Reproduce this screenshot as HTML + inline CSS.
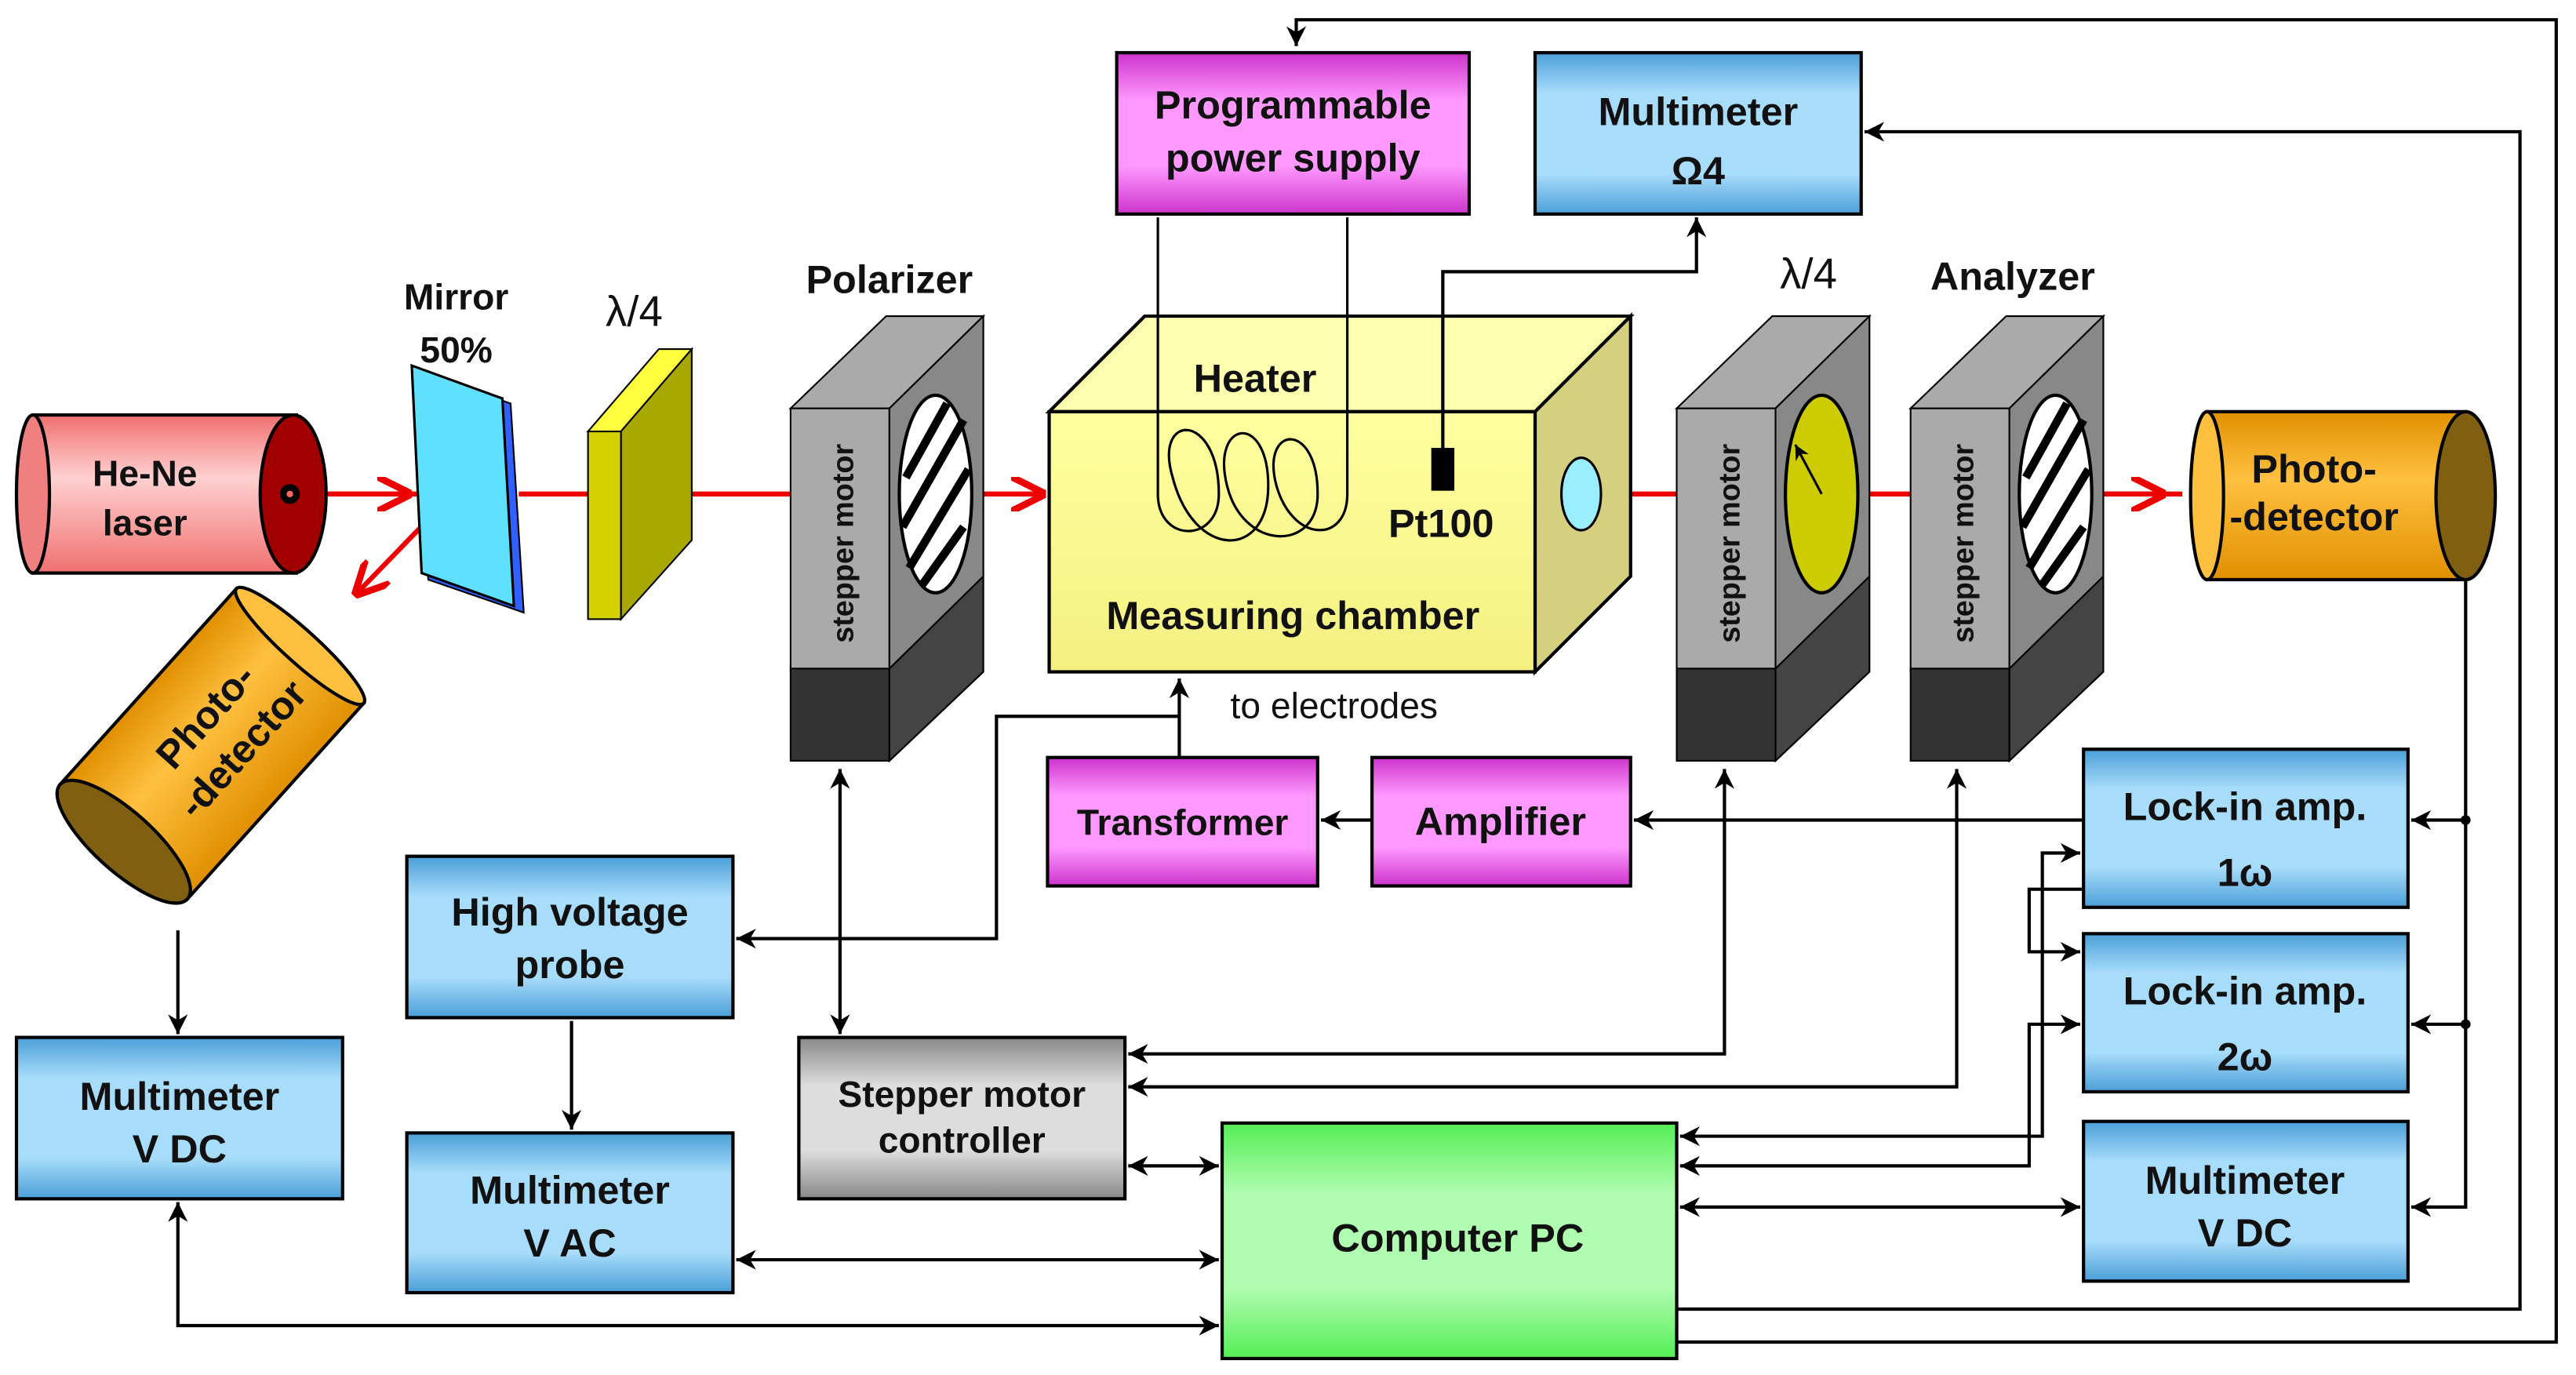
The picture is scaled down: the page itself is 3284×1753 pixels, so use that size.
<!DOCTYPE html>
<html><head><meta charset="utf-8"><style>html,body{margin:0;padding:0;background:#fff}svg{display:block}text{font-family:"Liberation Sans",sans-serif;font-weight:bold;fill:#111}</style></head><body>
<svg width="3284" height="1753" viewBox="0 0 1564 835" preserveAspectRatio="none" xmlns="http://www.w3.org/2000/svg">
<defs>
<linearGradient id="blue" x1="0" y1="0" x2="0" y2="1"><stop offset="0" stop-color="#4a9fd8"/><stop offset=".25" stop-color="#a8dcfb"/><stop offset=".75" stop-color="#a8dcfb"/><stop offset="1" stop-color="#4a9fd8"/></linearGradient>
<linearGradient id="mag" x1="0" y1="0" x2="0" y2="1"><stop offset="0" stop-color="#cc33cc"/><stop offset=".3" stop-color="#ff99ff"/><stop offset=".7" stop-color="#ff99ff"/><stop offset="1" stop-color="#cc33cc"/></linearGradient>
<linearGradient id="grey" x1="0" y1="0" x2="0" y2="1"><stop offset="0" stop-color="#888"/><stop offset=".3" stop-color="#ddd"/><stop offset=".7" stop-color="#ddd"/><stop offset="1" stop-color="#888"/></linearGradient>
<linearGradient id="green" x1="0" y1="0" x2="0" y2="1"><stop offset="0" stop-color="#55ee55"/><stop offset=".3" stop-color="#b0fcb0"/><stop offset=".7" stop-color="#b0fcb0"/><stop offset="1" stop-color="#55ee55"/></linearGradient>
<linearGradient id="pink" x1="0" y1="0" x2="0" y2="1"><stop offset="0" stop-color="#f07070"/><stop offset=".4" stop-color="#ffd0d0"/><stop offset="1" stop-color="#f07070"/></linearGradient>
<linearGradient id="orange" x1="0" y1="0" x2="0" y2="1"><stop offset="0" stop-color="#e09000"/><stop offset=".4" stop-color="#ffc040"/><stop offset="1" stop-color="#e09000"/></linearGradient>
<linearGradient id="yel" x1="0" y1="0" x2="0" y2="1"><stop offset="0" stop-color="#ffffa0"/><stop offset="1" stop-color="#f4f080"/></linearGradient>
<marker id="a" viewBox="0 0 10 10" refX="10" refY="5" markerWidth="6" markerHeight="6" orient="auto-start-reverse"><path d="M0,0 L10,5 L0,10 L3,5z" fill="#000"/></marker>
<marker id="r" viewBox="0 0 10 10" refX="10" refY="5" markerWidth="7" markerHeight="7" orient="auto"><path d="M0,0 L10,5 L0,10" fill="none" stroke="#e00" stroke-width="2"/></marker>
</defs>
<g stroke="#000" stroke-width="2" fill="none">
<path d="M1018,815 H1552 V12 H787 V28" marker-end="url(#a)"/>
<path d="M1018,795 H1530 V80 H1132" marker-end="url(#a)"/>
<path d="M716,460 V412" marker-end="url(#a)"/>
<path d="M716,435 H605 V570 H447" marker-end="url(#a)"/>
<path d="M510,467 V628" marker-end="url(#a)" marker-start="url(#a)"/>
<path d="M1047,467 V640 H685" marker-end="url(#a)" marker-start="url(#a)"/>
<path d="M1188,467 V660 H685" marker-end="url(#a)" marker-start="url(#a)"/>
<path d="M1265,498 H992" marker-end="url(#a)"/>
<path d="M833,498 H802" marker-end="url(#a)"/>
<path d="M1020,690 H1240 V518 H1263" marker-end="url(#a)" marker-start="url(#a)"/>
<path d="M1265,540 H1232 V578 H1263" marker-end="url(#a)"/>
<path d="M1020,708 H1232 V622 H1263" marker-end="url(#a)" marker-start="url(#a)"/>
<path d="M1020,733 H1263" marker-end="url(#a)" marker-start="url(#a)"/>
<path d="M1497,352 V733 H1464" marker-end="url(#a)"/>
<path d="M1497,498 H1464" marker-end="url(#a)"/>
<path d="M1497,622 H1464" marker-end="url(#a)"/>
<path d="M685,708 H740" marker-end="url(#a)" marker-start="url(#a)"/>
<path d="M347,620 V686" marker-end="url(#a)"/>
<path d="M447,765 H740" marker-end="url(#a)" marker-start="url(#a)"/>
<path d="M108,565 V628" marker-end="url(#a)"/>
<path d="M108,730 V805 H740" marker-end="url(#a)" marker-start="url(#a)"/>
</g>
<circle cx="1497" cy="498" r="3"/><circle cx="1497" cy="622" r="3"/>
<g stroke="#e00" stroke-width="3" fill="none">
<path d="M178,300 H275"/><path d="M200,300 H250" marker-end="url(#r)"/>
<path d="M275,300 L215,362" marker-end="url(#r)"/>
<path d="M315,300 H360 M420,300 H482"/>
<path d="M575,300 H635" marker-end="url(#r)"/>
<path d="M960,300 H1020 M1100,300 H1160 M1240,300 H1325"/>
<path d="M1270,300 H1315" marker-end="url(#r)"/>
</g>
<rect x="20" y="252" width="160" height="96" fill="url(#pink)" stroke="#000" stroke-width="2"/>
<ellipse cx="20" cy="300" rx="10" ry="48" fill="#f08080" stroke="#000" stroke-width="2"/>
<ellipse cx="178" cy="300" rx="20" ry="48" fill="#a00000" stroke="#000" stroke-width="2"/>
<circle cx="176" cy="300" r="6" fill="#000"/><circle cx="176" cy="300" r="2" fill="#f66"/>
<text x="88" y="295" font-size="22" text-anchor="middle">He-Ne</text><text x="88" y="325" font-size="22" text-anchor="middle">laser</text>
<polygon points="252,225 310,245 318,372 260,352" fill="#3060ff" stroke="#000"/>
<polygon points="250,222 305,242 312,368 256,348" fill="#60e0ff" stroke="#000" stroke-width="1.5"/>
<text x="277" y="188" font-size="22" text-anchor="middle">Mirror</text><text x="277" y="220" font-size="22" text-anchor="middle">50%</text>
<polygon points="357,262 400,212 420,212 377,262" fill="#ffff40" stroke="#000"/>
<polygon points="377,262 420,212 420,328 377,376" fill="#a8a800" stroke="#000"/>
<rect x="357" y="262" width="20" height="114" fill="#d4d000" stroke="#000"/>
<text x="385" y="198" font-size="26" text-anchor="middle" style="font-weight:normal">λ/4</text>
<g id="st">
<polygon points="480,248 538,192 597,192 540,248" fill="#aaa" stroke="#000"/>
<polygon points="540,248 597,192 597,408 540,462" fill="#777" stroke="#000"/>
<rect x="480" y="248" width="60" height="160" fill="#aaa" stroke="#000"/>
<rect x="480" y="406" width="60" height="56" fill="#333" stroke="#000"/>
<polygon points="540,406 597,350 597,408 540,462" fill="#444" stroke="#000"/>
<polygon points="540,248 597,192 597,350 540,406" fill="#888" stroke="#000"/>
</g>
<text transform="translate(518,330) rotate(-90)" font-size="18" text-anchor="middle">stepper motor</text>
<ellipse cx="568" cy="300" rx="22" ry="60" fill="#fff" stroke="#000" stroke-width="2"/>
<g stroke="#000" stroke-width="5"><line x1="550" y1="290" x2="575" y2="245"/><line x1="548" y1="320" x2="585" y2="255"/><line x1="552" y1="345" x2="588" y2="285"/><line x1="560" y1="355" x2="585" y2="320"/></g>
<text x="540" y="178" font-size="24" text-anchor="middle">Polarizer</text>
<use href="#st" x="538"/>
<text transform="translate(1056,330) rotate(-90)" font-size="18" text-anchor="middle">stepper motor</text>
<ellipse cx="1106" cy="300" rx="22" ry="60" fill="#cccc00" stroke="#000" stroke-width="2"/>
<path d="M1106,300 L1090,270" stroke="#000" stroke-width="1.5" marker-end="url(#a)"/>
<text x="1098" y="175" font-size="26" text-anchor="middle" style="font-weight:normal">λ/4</text>
<use href="#st" x="680"/>
<text transform="translate(1198,330) rotate(-90)" font-size="18" text-anchor="middle">stepper motor</text>
<ellipse cx="1248" cy="300" rx="22" ry="60" fill="#fff" stroke="#000" stroke-width="2"/>
<g stroke="#000" stroke-width="5"><line x1="1230" y1="290" x2="1255" y2="245"/><line x1="1228" y1="320" x2="1265" y2="255"/><line x1="1232" y1="345" x2="1268" y2="285"/><line x1="1240" y1="355" x2="1265" y2="320"/></g>
<text x="1222" y="176" font-size="24" text-anchor="middle">Analyzer</text>
<polygon points="637,250 695,192 990,192 932,250" fill="#ffffb0" stroke="#000" stroke-width="2"/>
<polygon points="932,250 990,192 990,350 932,408" fill="#d4d080" stroke="#000" stroke-width="2"/>
<rect x="637" y="250" width="295" height="158" fill="url(#yel)" stroke="#000" stroke-width="2"/>
<ellipse cx="960" cy="300" rx="12" ry="22" fill="#9ef" stroke="#000" stroke-width="1.5"/>
<path d="M703,132 V300 M818,132 V300 M703,300 C703,330 740,330 740,300 C740,250 700,250 712,290 C725,340 770,340 770,295 C770,250 735,255 745,295 C755,335 800,335 800,300 C800,255 765,258 775,295 C785,330 818,330 818,300" fill="none" stroke="#000" stroke-width="1.5"/>
<path d="M876,285 V165 H1030 V132" fill="none" stroke="#000" stroke-width="2" marker-end="url(#a)"/>
<rect x="869" y="272" width="14" height="26" fill="#000"/>
<text x="762" y="238" font-size="24" text-anchor="middle">Heater</text>
<text x="875" y="326" font-size="24" text-anchor="middle">Pt100</text>
<text x="785" y="382" font-size="24" text-anchor="middle">Measuring chamber</text>
<text x="810" y="436" font-size="22" text-anchor="middle" style="font-weight:normal">to electrodes</text>
<rect x="1340" y="250" width="157" height="102" fill="url(#orange)" stroke="#000" stroke-width="2"/>
<ellipse cx="1340" cy="301" rx="10" ry="51" fill="#ffc040" stroke="#000" stroke-width="2"/>
<ellipse cx="1497" cy="301" rx="18" ry="51" fill="#806010" stroke="#000" stroke-width="2"/>
<text x="1405" y="293" font-size="24" text-anchor="middle">Photo-</text><text x="1405" y="322" font-size="24" text-anchor="middle">-detector</text>
<g transform="translate(132,448) rotate(-48)">
<rect x="-85" y="-52" width="160" height="104" fill="url(#orange)" stroke="#000" stroke-width="2"/>
<ellipse cx="75" cy="0" rx="10" ry="52" fill="#ffc040" stroke="#000" stroke-width="2"/>
<ellipse cx="-85" cy="0" rx="18" ry="52" fill="#806010" stroke="#000" stroke-width="2"/>
<text x="5" y="-6" font-size="24" text-anchor="middle">Photo-</text><text x="5" y="24" font-size="24" text-anchor="middle">-detector</text>
</g>
<g stroke="#000" stroke-width="2">
<rect x="678" y="32" width="214" height="98" fill="url(#mag)"/>
<rect x="932" y="32" width="198" height="98" fill="url(#blue)"/>
<rect x="10" y="630" width="198" height="98" fill="url(#blue)"/>
<rect x="247" y="520" width="198" height="98" fill="url(#blue)"/>
<rect x="247" y="688" width="198" height="97" fill="url(#blue)"/>
<rect x="485" y="630" width="198" height="98" fill="url(#grey)"/>
<rect x="636" y="460" width="164" height="78" fill="url(#mag)"/>
<rect x="833" y="460" width="157" height="78" fill="url(#mag)"/>
<rect x="742" y="682" width="276" height="143" fill="url(#green)"/>
<rect x="1265" y="455" width="197" height="96" fill="url(#blue)"/>
<rect x="1265" y="567" width="197" height="96" fill="url(#blue)"/>
<rect x="1265" y="681" width="197" height="97" fill="url(#blue)"/>
</g>
<g font-size="24" text-anchor="middle">
<text x="785" y="72">Programmable</text><text x="785" y="104">power supply</text>
<text x="1031" y="76">Multimeter</text><text x="1031" y="112">Ω4</text>
<text x="109" y="674">Multimeter</text><text x="109" y="706">V DC</text>
<text x="346" y="562">High voltage</text><text x="346" y="594">probe</text>
<text x="346" y="731">Multimeter</text><text x="346" y="763">V AC</text>
<text x="584" y="672" font-size="22">Stepper motor</text><text x="584" y="700" font-size="22">controller</text>
<text x="718" y="507" font-size="22">Transformer</text>
<text x="911" y="507">Amplifier</text>
<text x="885" y="760">Computer PC</text>
<text x="1363" y="498">Lock-in amp.</text><text x="1363" y="538">1ω</text>
<text x="1363" y="610">Lock-in amp.</text><text x="1363" y="650">2ω</text>
<text x="1363" y="725">Multimeter</text><text x="1363" y="757">V DC</text>
</g>
</svg>
</body></html>
